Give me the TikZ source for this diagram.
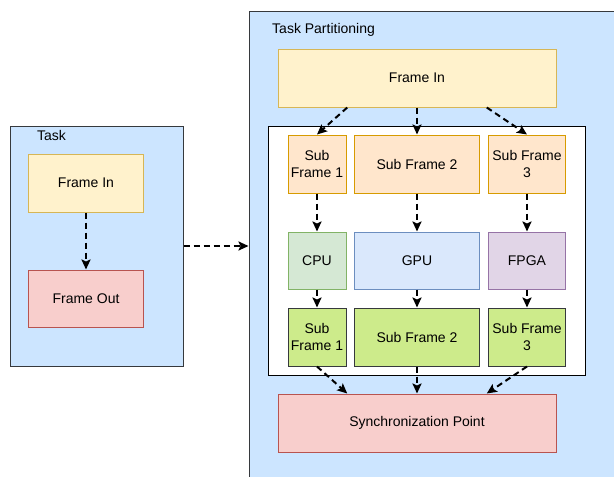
\documentclass[tikz,border=0pt]{standalone}
\usepackage{fontspec}
\setmainfont{Liberation Sans}
\usetikzlibrary{arrows.meta,calc}

\definecolor{contfill}{HTML}{CCE5FF}
\definecolor{contline}{HTML}{36393D}
\definecolor{yelfill}{HTML}{FFF2CC}
\definecolor{yelline}{HTML}{D6B656}
\definecolor{redfill}{HTML}{F8CECC}
\definecolor{redline}{HTML}{B85450}
\definecolor{orfill}{HTML}{FFE6CC}
\definecolor{orline}{HTML}{D79B00}
\definecolor{grfill}{HTML}{D5E8D4}
\definecolor{grline}{HTML}{82B366}
\definecolor{blfill}{HTML}{DAE8FC}
\definecolor{blline}{HTML}{6C8EBF}
\definecolor{pufill}{HTML}{E1D5E7}
\definecolor{puline}{HTML}{9673A6}
\definecolor{limefill}{HTML}{CDEB8B}

\tikzset{
  box/.style={draw, line width=1pt, inner sep=1pt, align=center,
    font=\fontsize{14}{17}\selectfont},
  container/.style={draw=contline, fill=contfill, line width=1pt},
  yelbox/.style={box, draw=yelline, fill=yelfill},
  redbox/.style={box, draw=redline, fill=redfill},
  orbox/.style={box, draw=orline, fill=orfill},
  grbox/.style={box, draw=grline, fill=grfill},
  blbox/.style={box, draw=blline, fill=blfill},
  pubox/.style={box, draw=puline, fill=pufill},
  limebox/.style={box, draw=contline, fill=limefill},
  flow/.style={line width=2pt, dash pattern=on 6pt off 4pt,
    -{Stealth[length=10pt,width=9pt,inset=2pt]}},
  title/.style={anchor=west, inner sep=0pt, font=\fontsize{14}{17}\selectfont},
}

\begin{document}
\begin{tikzpicture}[x=1pt,y=-1pt]
\useasboundingbox (0,0) rectangle (614,477);
\clip (0,0) rectangle (614,477);

% left container: the whole task
\node[container, minimum width=173pt, minimum height=240pt] (task) at (96.5,246) {};
\node[title] (tasklbl) at (37,135) {Task};
\node[yelbox, minimum width=115pt, minimum height=58pt] (lin) at (86,183) {Frame In};
\node[redbox, minimum width=115pt, minimum height=57pt] (lout) at (86,298.5) {Frame Out};
\draw[flow] (lin.south) -- (lout.north);

% right container: the partitioned task
\node[container, minimum width=391pt, minimum height=489pt] (part) at (444.5,255.5) {};
\node[title] (partlbl) at (272,30) {Task Partitioning};
\node[yelbox, minimum width=278pt, minimum height=58pt] (fin) at (417,78) {Frame In};
\node[draw, line width=1pt, fill=white, minimum width=317pt, minimum height=249pt] (inner) at (426.5,250.5) {};

% split frames
\node[orbox, minimum width=58pt, minimum height=58pt] (sa) at (317,164) {Sub\\Frame 1};
\node[orbox, minimum width=125pt, minimum height=58pt] (sb) at (417,164) {Sub Frame 2};
\node[orbox, minimum width=77pt, minimum height=58pt] (sc) at (527,164) {Sub Frame\\3};

% processing units
\node[grbox, minimum width=58pt, minimum height=57pt] (cpu) at (317,260.5) {CPU};
\node[blbox, minimum width=125pt, minimum height=57pt] (gpu) at (417,260.5) {GPU};
\node[pubox, minimum width=77pt, minimum height=57pt] (fpga) at (527,260.5) {FPGA};

% processed frames
\node[limebox, minimum width=58pt, minimum height=58pt] (ra) at (317,337) {Sub\\Frame 1};
\node[limebox, minimum width=125pt, minimum height=58pt] (rb) at (417,337) {Sub Frame 2};
\node[limebox, minimum width=77pt, minimum height=58pt] (rc) at (527,337) {Sub Frame\\3};

\node[redbox, minimum width=278pt, minimum height=58pt] (sync) at (417,423) {Synchronization Point};

% connectors
\draw[flow] (task.east) -- (task.east -| part.west);
\draw[flow] ($(fin.south west)!0.25!(fin.south east)$) -- (sa.north);
\draw[flow] (fin.south) -- (fin.south |- sb.north);
\draw[flow] ($(fin.south west)!0.75!(fin.south east)$) -- (sc.north);
\draw[flow] (sa.south) -- (cpu.north);
\draw[flow] (sb.south) -- (gpu.north);
\draw[flow] (sc.south) -- (fpga.north);
\draw[flow] (cpu.south) -- (ra.north);
\draw[flow] (gpu.south) -- (rb.north);
\draw[flow] (fpga.south) -- (rc.north);
\draw[flow] (ra.south) -- ($(sync.north west)!0.25!(sync.north east)$);
\draw[flow] (rb.south) -- (rb.south |- sync.north);
\draw[flow] (rc.south) -- ($(sync.north west)!0.75!(sync.north east)$);
\end{tikzpicture}
\end{document}
